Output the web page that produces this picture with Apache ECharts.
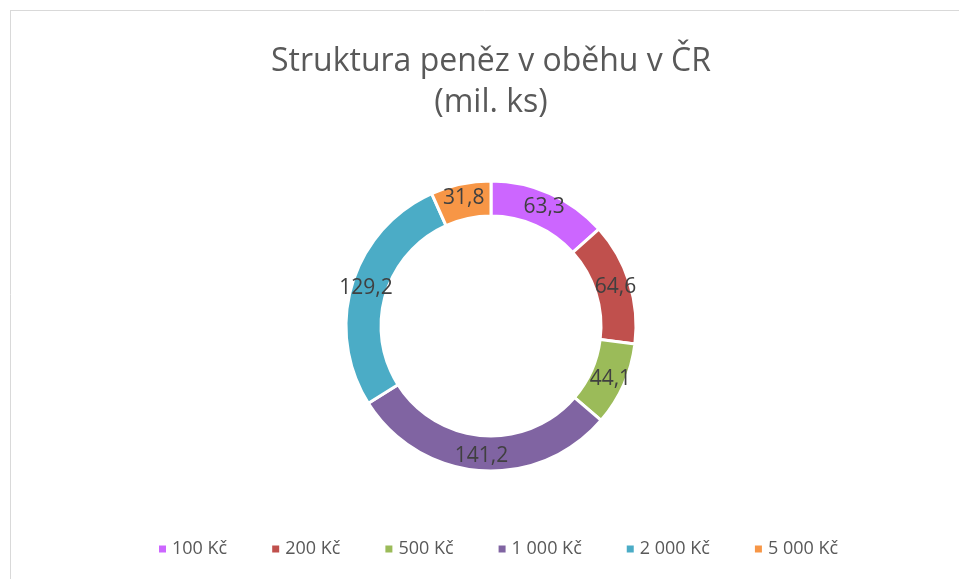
<!DOCTYPE html>
<html><head><meta charset="utf-8">
<script src="https://cdn.jsdelivr.net/npm/echarts@6/dist/echarts.min.js"></script>
<style>html,body{margin:0;padding:0;background:#fff}#c{width:959px;height:579px}</style>
</head><body><div id="c"></div>
<script>
const categories = ['100 Kč','200 Kč','500 Kč','1 000 Kč','2 000 Kč','5 000 Kč'];
const values = [63.3, 64.6, 44.1, 141.2, 129.2, 31.8];
const colors = ['#CC66FF','#C0504D','#9BBB59','#8064A2','#4BACC6','#F79646'];
const titleLines = ['Struktura peněz v oběhu v ČR','(mil. ks)'];

const chart = echarts.init(document.getElementById('c'));
const font = '"Open Sans", "Noto Sans", sans-serif';
chart.setOption({
  animation:false,
  color: colors,
  title:{text: titleLines.join('\n'), left:486, textAlign:'center', top:36,
    textStyle:{fontFamily:font, fontSize:32, fontWeight:'normal', color:'#595959', lineHeight:41}},
  legend:{bottom:16, left:152, itemWidth:9, itemHeight:9, itemGap:43, icon:'rect',
    textStyle:{fontFamily:font, fontSize:18, color:'#595959'}},
  graphic:[
    {type:'line', shape:{x1:10,y1:10.5,x2:959,y2:10.5}, style:{stroke:'#d9d9d9', lineWidth:1}},
    {type:'line', shape:{x1:10.5,y1:10,x2:10.5,y2:579}, style:{stroke:'#d9d9d9', lineWidth:1}}
  ],
  series:[{
    type:'pie', radius:[110,145], center:[491,326], startAngle:90, clockwise:true,
    itemStyle:{borderColor:'#fff', borderWidth:3},
    label:{show:true, position:'inside', fontFamily:font, fontSize:21, color:'#404040',
      formatter: p => String(p.value).replace('.', ',')},
    labelLine:{show:false},
    emphasis:{disabled:true},
    data: categories.map((n,i)=>({name:n, value:values[i]}))
  }]
});
</script></body></html>
